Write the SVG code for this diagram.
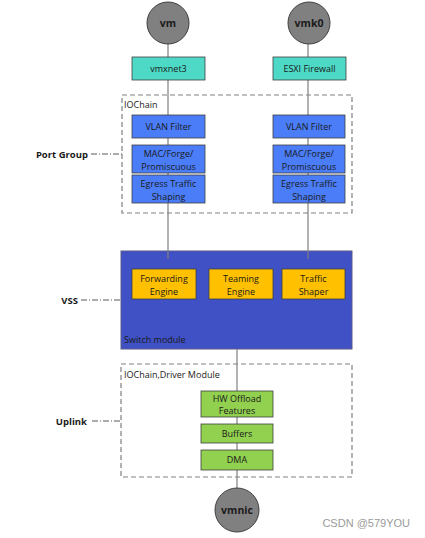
<svg xmlns="http://www.w3.org/2000/svg" width="425" height="538" viewBox="0 0 425 538">
<style>
text{font-family:"Open Sans","Noto Sans","DejaVu Sans",sans-serif;fill:#1a1a1a}
.c{fill:#808080;stroke:#404040;stroke-width:1}
.ct{font-size:10.5px;font-weight:bold;text-anchor:middle}
.t{font-size:9px;text-anchor:middle}
.lbl{font-size:9.5px;font-weight:bold;text-anchor:end}
.grp{fill:none;stroke:#808080;stroke-width:1.2;stroke-dasharray:5,3}
.cy{fill:#4dd9c6;stroke:#404040;stroke-width:0.8}
.bl{fill:#4a7df7;stroke:#404040;stroke-width:0.8}
.or{fill:#ffc000;stroke:#404040;stroke-width:0.8}
.gr{fill:#92d050;stroke:#404040;stroke-width:0.8}
.ln{stroke:#808080;stroke-width:1.2;fill:none}
.dd{stroke:#595959;stroke-width:1;stroke-dasharray:6,2,1,2;fill:none}
.sm{font-size:9px}
</style>
<rect width="425" height="538" fill="#fff"/>
<g id="portgroup-box"><rect class="grp" x="122" y="95" width="230" height="118"/><text class="sm" x="124" y="108">IOChain</text></g>
<g id="vss"><rect x="121" y="251" width="231" height="98" fill="#3f51c4" stroke="#5a5a8a" stroke-width="1"/><text class="sm" x="124" y="343">Switch module</text></g>
<g id="uplink-box"><rect class="grp" x="121" y="364" width="231" height="113"/><text class="sm" x="124" y="378">IOChain,Driver Module</text></g>
<g id="connectors">
<line class="ln" x1="168" y1="44" x2="168" y2="259"/>
<line class="ln" x1="308" y1="44" x2="308" y2="259"/>
<line class="ln" x1="237" y1="349" x2="237" y2="488"/>
<line class="dd" x1="91" y1="154" x2="122" y2="154"/>
<line class="dd" x1="81" y1="300" x2="121" y2="300"/>
<line class="dd" x1="92" y1="421" x2="121" y2="421"/>
</g>
<g id="lbl-portgroup"><text class="lbl" x="88" y="157.5">Port Group</text></g>
<g id="lbl-vss"><text class="lbl" x="78" y="303.5">VSS</text></g>
<g id="lbl-uplink"><text class="lbl" x="87" y="425">Uplink</text></g>
<g id="vm"><circle class="c" cx="168" cy="23" r="21"/><text class="ct" x="168" y="27">vm</text></g>
<g id="vmk0"><circle class="c" cx="309" cy="23" r="21"/><text class="ct" x="309" y="27">vmk0</text></g>
<g id="vmxnet3"><rect class="cy" x="132" y="57" width="73" height="23"/><text class="t" x="168.5" y="71.5">vmxnet3</text></g>
<g id="esxi-firewall"><rect class="cy" x="273" y="57" width="73" height="23"/><text class="t" x="309.5" y="71.5">ESXI Firewall</text></g>
<g id="vlan1"><rect class="bl" x="132" y="115" width="73" height="23"/><text class="t" x="168.5" y="129.5">VLAN Filter</text></g>
<g id="mac1"><rect class="bl" x="132" y="145" width="73" height="28"/><text class="t" x="168.5" y="156.5">MAC/Forge/</text><text class="t" x="168.5" y="169.5">Promiscuous</text></g>
<g id="egress1"><rect class="bl" x="132" y="175" width="73" height="28"/><text class="t" x="168.5" y="186.5">Egress Traffic</text><text class="t" x="168.5" y="199.5">Shaping</text></g>
<g id="vlan2"><rect class="bl" x="273" y="115" width="72" height="23"/><text class="t" x="309" y="129.5">VLAN Filter</text></g>
<g id="mac2"><rect class="bl" x="273" y="145" width="72" height="28"/><text class="t" x="309" y="156.5">MAC/Forge/</text><text class="t" x="309" y="169.5">Promiscuous</text></g>
<g id="egress2"><rect class="bl" x="273" y="175" width="72" height="28"/><text class="t" x="309" y="186.5">Egress Traffic</text><text class="t" x="309" y="199.5">Shaping</text></g>
<g id="forwarding"><rect class="or" x="132" y="269" width="64" height="30"/><text class="t" x="164" y="281.5">Forwarding</text><text class="t" x="164" y="294.5">Engine</text></g>
<g id="teaming"><rect class="or" x="209" y="269" width="64" height="30"/><text class="t" x="241" y="281.5">Teaming</text><text class="t" x="241" y="294.5">Engine</text></g>
<g id="shaper"><rect class="or" x="282" y="269" width="63" height="30"/><text class="t" x="313.5" y="281.5">Traffic</text><text class="t" x="313.5" y="294.5">Shaper</text></g>
<g id="hwoffload"><rect class="gr" x="201" y="391" width="72" height="26"/><text class="t" x="237" y="401.5">HW Offload</text><text class="t" x="237" y="413.5">Features</text></g>
<g id="buffers"><rect class="gr" x="201" y="424" width="72" height="19"/><text class="t" x="237" y="436.5">Buffers</text></g>
<g id="dma"><rect class="gr" x="201" y="450" width="72" height="20"/><text class="t" x="237" y="463">DMA</text></g>
<g id="vmnic"><circle class="c" cx="237" cy="510" r="22"/><text class="ct" x="237" y="514">vmnic</text></g>
<text x="410" y="527" text-anchor="end" style="font-family:'Liberation Sans',Arial,sans-serif;font-size:11px;fill:#9a9a9a">CSDN @579YOU</text>
</svg>
